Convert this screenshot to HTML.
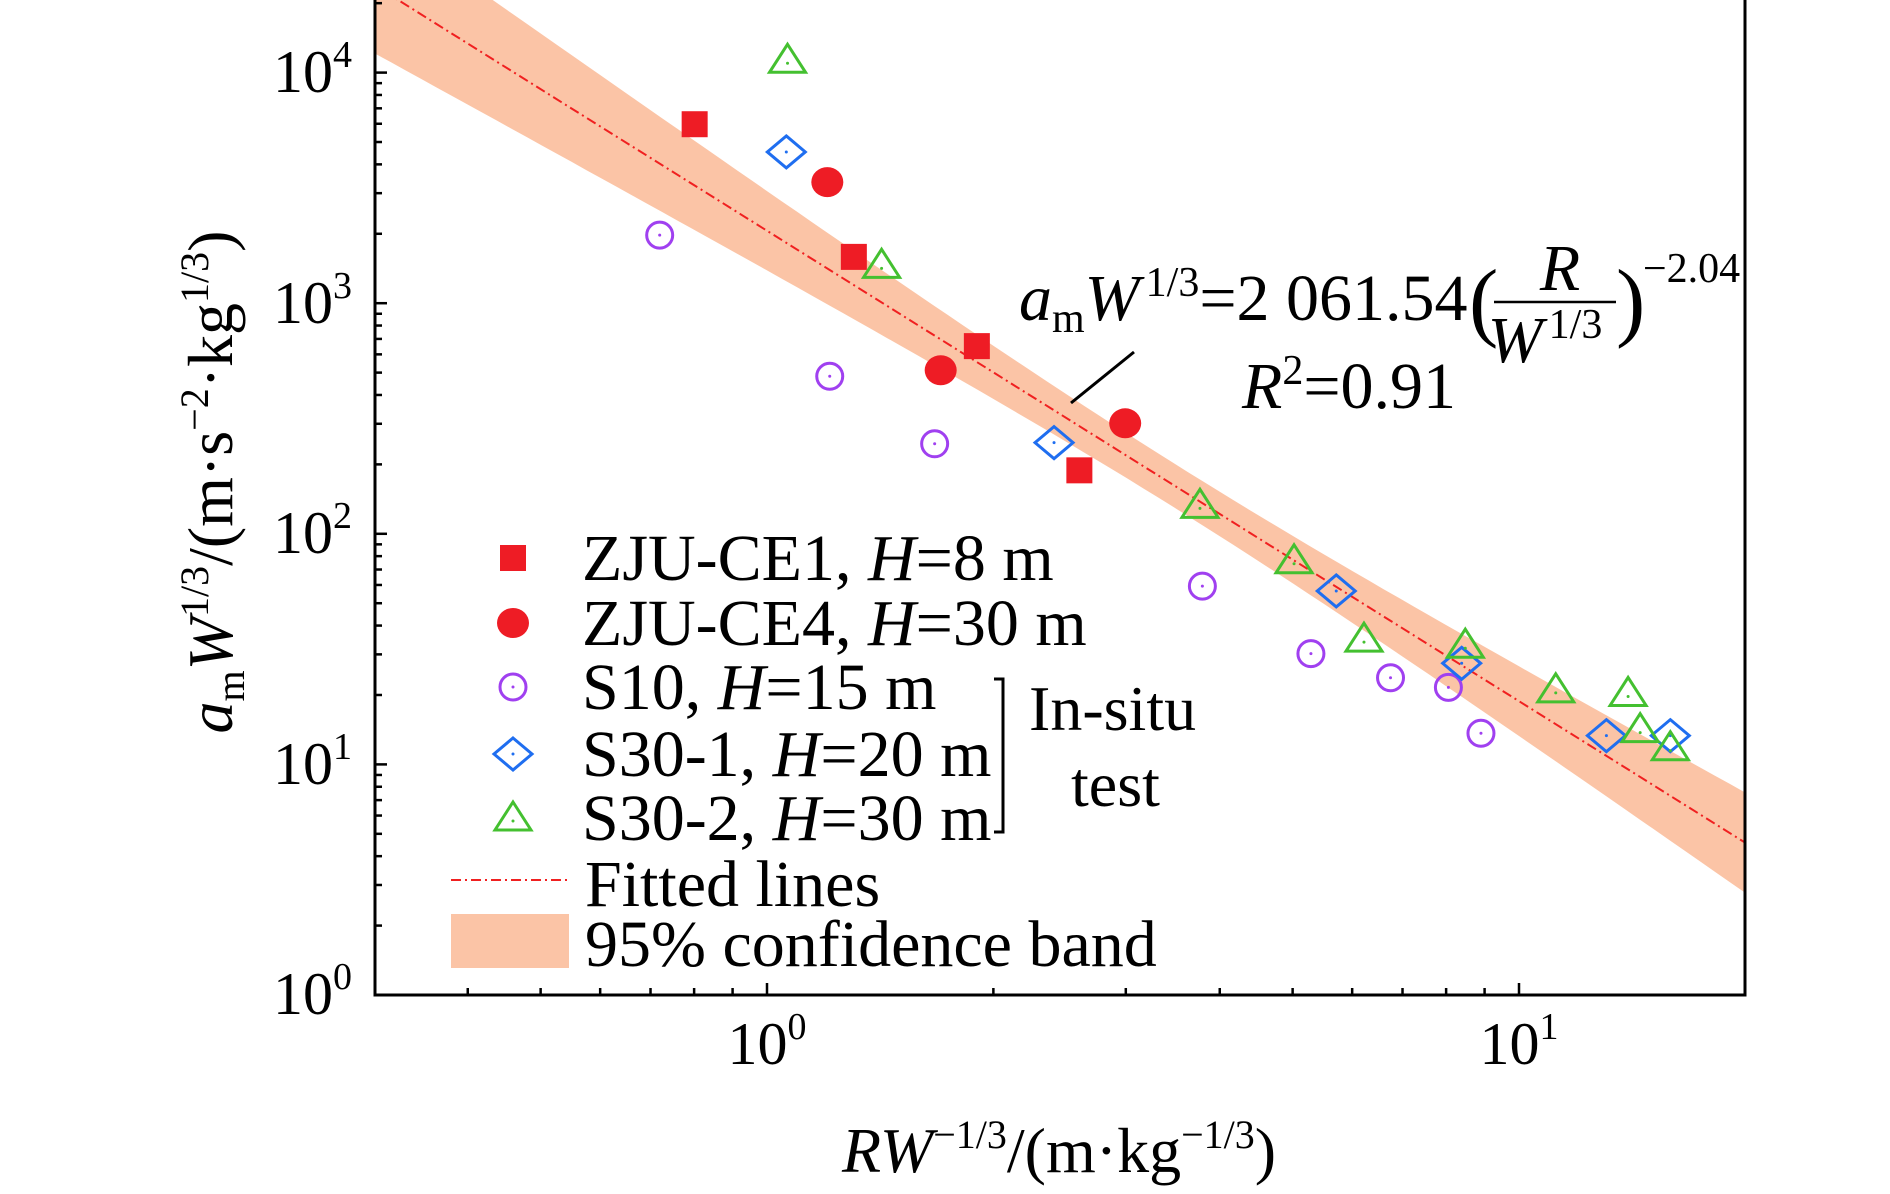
<!DOCTYPE html>
<html><head><meta charset="utf-8"><style>
body{margin:0;background:#fff}
svg text{font-family:"Liberation Serif",serif;fill:#000}
</style></head><body>
<svg id="s" width="1890" height="1189" viewBox="0 0 1890 1189" xmlns="http://www.w3.org/2000/svg">
<defs><clipPath id="c"><rect x="375" y="0" width="1370" height="995"/></clipPath></defs>
<g id="plot" clip-path="url(#c)"></g>
<rect x="375" y="-2" width="1370" height="997" fill="none" stroke="#000" stroke-width="3"/>
<g id="ticks" stroke="#000" stroke-width="2.5"></g>
<g font-size="60">
<text x="352" y="92" text-anchor="end">10<tspan font-size="38" dy="-25">4</tspan></text>
<text x="352" y="323" text-anchor="end">10<tspan font-size="38" dy="-25">3</tspan></text>
<text x="352" y="553" text-anchor="end">10<tspan font-size="38" dy="-25">2</tspan></text>
<text x="352" y="784" text-anchor="end">10<tspan font-size="38" dy="-25">1</tspan></text>
<text x="352" y="1014" text-anchor="end">10<tspan font-size="38" dy="-25">0</tspan></text>
<text x="767" y="1064" text-anchor="middle">10<tspan font-size="38" dy="-25">0</tspan></text>
<text x="1519" y="1064" text-anchor="middle">10<tspan font-size="38" dy="-25">1</tspan></text>
</g>
<text x="1059" y="1172" font-size="64" text-anchor="middle"><tspan font-style="italic">RW</tspan><tspan font-size="40" dy="-24">−1/3</tspan><tspan dy="24">/(m·kg</tspan><tspan font-size="40" dy="-24">−1/3</tspan><tspan dy="24">)</tspan></text>
<text transform="translate(232,482) rotate(-90)" font-size="64" text-anchor="middle"><tspan font-style="italic">a</tspan><tspan font-size="40" dy="12">m</tspan><tspan font-style="italic" dy="-12">W</tspan><tspan font-size="40" dy="-24">1/3</tspan><tspan dy="24">/(m·s</tspan><tspan font-size="40" dy="-24">−2</tspan><tspan dy="24">·kg</tspan><tspan font-size="40" dy="-24">1/3</tspan><tspan dy="24">)</tspan></text>
<g id="leg"></g>
<g font-size="66">
<text x="582" y="580">ZJU-CE1, <tspan font-style="italic">H</tspan>=8 m</text>
<text x="582" y="645">ZJU-CE4, <tspan font-style="italic">H</tspan>=30 m</text>
<text x="582" y="709">S10, <tspan font-style="italic">H</tspan>=15 m</text>
<text x="582" y="776">S30-1, <tspan font-style="italic">H</tspan>=20 m</text>
<text x="582" y="840">S30-2, <tspan font-style="italic">H</tspan>=30 m</text>
<text x="585" y="906">Fitted lines</text>
<text x="585" y="966">95% confidence band</text>
</g>
<g font-size="64">
<text x="1029" y="730">In-situ</text>
<text x="1071" y="806">test</text>
</g>
<line x1="451" y1="880" x2="569" y2="880" stroke="#f02020" stroke-width="2" stroke-dasharray="10,4,2,4"/>
<rect x="451" y="914" width="118" height="54" fill="#fbc4a6"/>
<polyline points="994,679 1003,679 1003,832 994,832" fill="none" stroke="#000" stroke-width="3"/>
<g font-size="66">
<text x="1019" y="320"><tspan font-style="italic">a</tspan><tspan font-size="42" dy="12">m</tspan><tspan font-style="italic" dy="-12">W</tspan><tspan font-size="42" dy="-24" dx="6">1/3</tspan><tspan dy="24">=2 061.54</tspan></text>
<text x="1469" y="330" font-size="88">(</text>
<text x="1560" y="290" text-anchor="middle" font-style="italic">R</text>
<line x1="1494" y1="302" x2="1616" y2="302" stroke="#000" stroke-width="2.5"/>
<text x="1545" y="362" text-anchor="middle"><tspan font-style="italic">W</tspan><tspan font-size="42" dy="-24" dx="6">1/3</tspan></text>
<text x="1616" y="330" font-size="88">)</text>
<text x="1643" y="282" font-size="42">−2.04</text>
<text x="1242" y="408"><tspan font-style="italic">R</tspan><tspan font-size="42" dy="-24">2</tspan><tspan dy="24">=0.91</tspan></text>
</g>
<line x1="1071" y1="403" x2="1134" y2="352" stroke="#000" stroke-width="3"/>
</svg>
<script>
const NS="http://www.w3.org/2000/svg";
function el(p,t,a){const e=document.createElementNS(NS,t);for(const k in a)e.setAttribute(k,a[k]);p.appendChild(e);return e;}
const X=t=>767+752*t, Y=l=>995-230.6*l;
const plot=document.getElementById('plot');
let up=[],lo=[];
for(let t=-0.6;t<=1.36;t+=0.02){const ly=Math.log10(2061.54)-2.04*t;const w=Math.sqrt(484+3609*(t-0.55)**2);up.push(X(t).toFixed(1)+','+(Y(ly)-w).toFixed(1));lo.unshift(X(t).toFixed(1)+','+(Y(ly)+w).toFixed(1));}
el(plot,'polygon',{points:up.concat(lo).join(' '),fill:'#fbc4a6'});
el(plot,'line',{x1:X(-0.6),y1:Y(Math.log10(2061.54)+2.04*0.6),x2:X(1.36),y2:Y(Math.log10(2061.54)-2.04*1.36),stroke:'#f02020','stroke-width':2,'stroke-dasharray':'10,4,2,4'});
const s=1.206;
const R='#ee1c25',P='#a040f0',B='#1f6ef0',G='#44c030';
function sq(g,x,y){el(g,'rect',{x:x-13,y:y-13,width:26,height:26,fill:R});}
function ci(g,x,y){el(g,'ellipse',{cx:x,cy:y,rx:16,ry:15,fill:R});}
function oc(g,x,y){el(g,'circle',{cx:x,cy:y,r:13,fill:'none',stroke:P,'stroke-width':3});el(g,'circle',{cx:x,cy:y,r:1.5,fill:P});}
function di(g,x,y){el(g,'polygon',{points:`${x},${y-16} ${x+19},${y} ${x},${y+16} ${x-19},${y}`,fill:'none',stroke:B,'stroke-width':3});el(g,'circle',{cx:x,cy:y,r:1.5,fill:B});}
function tr(g,x,y){el(g,'polygon',{points:`${x},${y-16} ${x+18},${y+12} ${x-18},${y+12}`,fill:'none',stroke:G,'stroke-width':3});el(g,'circle',{cx:x,cy:y+3,r:1.5,fill:G});}
const d=(f,pts)=>pts.forEach(p=>f(plot,p[0]*s,p[1]*s));
d(sq,[[576,103],[708,213],[810,287],[895,390]]);
d(ci,[[686,151],[780,307],[933,351]]);
d(oc,[[547,195],[688,312],[775,368],[997,486],[1087,542],[1153,562],[1201,570],[1228,608]]);
d(di,[[652,126],[874,367],[1108,490],[1212,550],[1332,610],[1385,610]]);
d(tr,[[653,50],[731,220],[995,419],[1073,465],[1131,530],[1215,535],[1290,572],[1350,575],[1360,605],[1385,620]]);
const leg=document.getElementById('leg');
sq(leg,513,558);ci(leg,513,623);oc(leg,513,687);di(leg,513,754);tr(leg,513,818);
const tk=document.getElementById('ticks');
for(let dec=0;dec<5;dec++)for(let m=1;m<10;m++){const l=dec+Math.log10(m);const y=Y(l);if(y<2)continue;el(tk,'line',{x1:375,y1:y,x2:375+(m==1?12:7),y2:y});}
for(let dec=-1;dec<2;dec++)for(let m=1;m<10;m++){const t=dec+Math.log10(m);const x=X(t);if(x<378||x>1743)continue;el(tk,'line',{x1:x,y1:995,x2:x,y2:995-(m==1?12:7)});}
</script>
</body></html>
